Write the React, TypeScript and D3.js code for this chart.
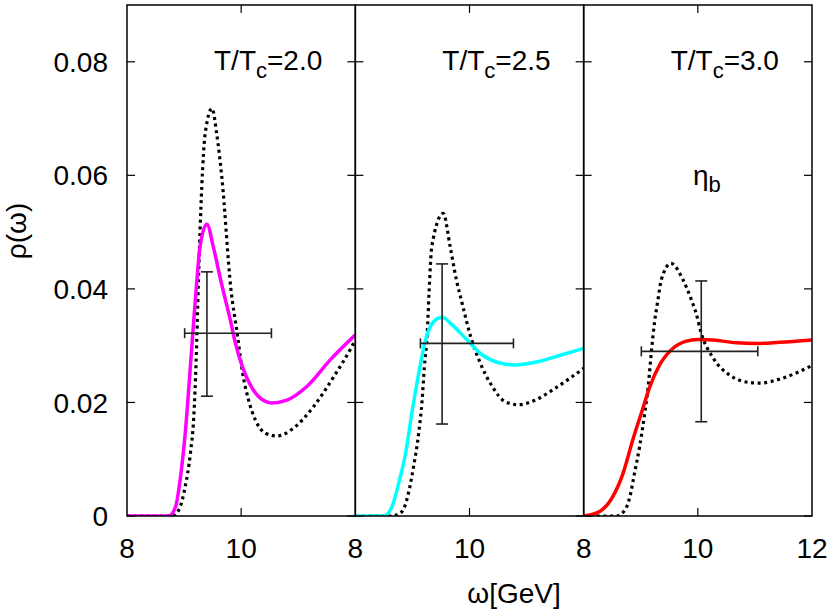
import React from "react";
import * as d3 from "d3";

// spectral functions rho(omega)
const panelTemps = ["2.0", "2.5", "3.0"];
const solidColors = ["#ff00ff", "#00ffff", "#ff0000"];

const solid20 = [[8,0],[8.6,0],[8.73,0],[8.85,0.0016],[8.93,0.0063],[9.02,0.0146],[9.11,0.0263],[9.17,0.0345],[9.22,0.041],[9.28,0.0475],[9.4,0.0514],[9.51,0.0475],[9.64,0.0416],[9.81,0.0345],[9.9,0.0304],[10.02,0.0263],[10.16,0.0231],[10.34,0.0207],[10.54,0.0199],[10.8,0.0204],[11.15,0.0228],[11.56,0.0275],[12,0.0319]];
const dotted20 = [[8,0],[8.8,0],[8.93,0.0016],[9.02,0.0052],[9.11,0.011],[9.17,0.0175],[9.21,0.027],[9.25,0.041],[9.31,0.058],[9.37,0.0674],[9.49,0.0718],[9.57,0.0674],[9.66,0.0598],[9.82,0.04],[9.93,0.0322],[10.02,0.0255],[10.13,0.0204],[10.25,0.0169],[10.42,0.0146],[10.63,0.0141],[10.92,0.0155],[11.27,0.0193],[11.62,0.0245],[11.91,0.0293],[12,0.031]];
const solid25 = [[8,0],[8.5,0],[8.64,0.0016],[8.76,0.0058],[8.88,0.011],[8.99,0.0181],[9.11,0.0251],[9.23,0.031],[9.37,0.0342],[9.52,0.035],[9.69,0.0337],[9.93,0.0313],[10.22,0.0284],[10.51,0.027],[10.8,0.0266],[11.21,0.0272],[11.62,0.0284],[12,0.0295]];
const dotted25 = [[8,0],[8.64,0],[8.82,0.0008],[8.93,0.004],[9.02,0.0087],[9.11,0.0146],[9.17,0.0204],[9.21,0.0263],[9.26,0.0322],[9.29,0.039],[9.34,0.0475],[9.54,0.0533],[9.66,0.0475],[9.77,0.0416],[9.87,0.0375],[10.02,0.0316],[10.19,0.0269],[10.4,0.0228],[10.63,0.0201],[10.86,0.0196],[11.15,0.0204],[11.5,0.0225],[12,0.026]];
const solid30 = [[8,0],[8.28,0.0008],[8.51,0.0034],[8.69,0.0075],[8.86,0.0134],[9.01,0.0181],[9.16,0.0228],[9.33,0.0266],[9.56,0.0295],[9.8,0.0308],[10,0.0311],[10.27,0.031],[10.68,0.0305],[11.03,0.0304],[11.43,0.0306],[12,0.031]];
const dotted30 = [[8,0],[8.57,0],[8.72,0.001],[8.81,0.0034],[8.89,0.0075],[8.98,0.0122],[9.07,0.0181],[9.13,0.0228],[9.19,0.0293],[9.24,0.034],[9.3,0.038],[9.36,0.0416],[9.53,0.0445],[9.74,0.0416],[9.89,0.038],[9.97,0.0357],[10.06,0.0322],[10.27,0.0278],[10.56,0.0248],[10.91,0.0235],[11.08,0.0234],[11.43,0.0241],[12,0.0265]];

const solidCurves = [solid20, solid25, solid30];
const dottedCurves = [dotted20, dotted25, dotted30];

// error bars (one per panel)
const errX = [9.4, 9.52, 10.06];
const errXLo = [9.01, 9.14, 9.01];
const errXHi = [10.53, 10.77, 11.05];
const errY = [0.0322, 0.0304, 0.029];
const errYLo = [0.0211, 0.0162, 0.0166];
const errYHi = [0.043, 0.0444, 0.0414];

const yTicks = [0, 0.02, 0.04, 0.06, 0.08];
const yTickLabels = ["0", "0.02", "0.04", "0.06", "0.08"];
const xTicksPerPanel = [[8, 10], [8, 10], [8, 10, 12]];

const W = 830, H = 612;
const left = 127, right = 812, top = 5, bottom = 516;
const panelW = (right - left) / 3;
const font = "'Liberation Sans', Arial, Helvetica, sans-serif";
const fs = 28;
const tickLen = 8;

const App = () => {
  const y = d3.scaleLinear().domain([0, 0.09]).range([bottom, top]);
  const xs = panelTemps.map((_, i) =>
    d3.scaleLinear().domain([8, 12]).range([left + i * panelW, left + (i + 1) * panelW])
  );

  return (
    <svg width={W} height={H} style={{ position: "absolute", left: 0, top: 0, background: "#fff" }} fontFamily={font}>
      <defs>
        {xs.map((x, i) => (
          <clipPath id={`clip${i}`} key={i}>
            <rect x={x(8)} y={top} width={panelW} height={bottom - top} />
          </clipPath>
        ))}
      </defs>
      {xs.map((x, i) => {
        const line = d3.line().x((d) => x(d[0])).y((d) => y(d[1])).curve(d3.curveMonotoneX);
        const x0 = x(8), x1 = x(12);
        return (
          <g key={i}>
            {/* ticks */}
            {yTicks.map((t, j) => (
              <g key={j} stroke="#000" strokeWidth={1.2}>
                <line x1={x0} x2={x0 + tickLen} y1={y(t)} y2={y(t)} />
                <line x1={x1} x2={x1 - tickLen} y1={y(t)} y2={y(t)} />
              </g>
            ))}
            <line x1={x(10)} x2={x(10)} y1={top} y2={top + tickLen} stroke="#000" strokeWidth={1.2} />
            <line x1={x(10)} x2={x(10)} y1={bottom} y2={bottom - tickLen} stroke="#000" strokeWidth={1.2} />

            <g clipPath={`url(#clip${i})`}>
              <path d={line(dottedCurves[i])} fill="none" stroke="#000" strokeWidth={3.2} strokeDasharray="3 3.6" />
              <path d={line(solidCurves[i])} fill="none" stroke={solidColors[i]} strokeWidth={3.5} />
            </g>

            {/* error bar */}
            <g stroke="#222" strokeWidth={1.6}>
              <line x1={x(errX[i])} x2={x(errX[i])} y1={y(errYLo[i])} y2={y(errYHi[i])} />
              <line x1={x(errX[i]) - 6} x2={x(errX[i]) + 6} y1={y(errYLo[i])} y2={y(errYLo[i])} />
              <line x1={x(errX[i]) - 6} x2={x(errX[i]) + 6} y1={y(errYHi[i])} y2={y(errYHi[i])} />
              <line x1={x(errXLo[i])} x2={x(errXHi[i])} y1={y(errY[i])} y2={y(errY[i])} />
              <line x1={x(errXLo[i])} x2={x(errXLo[i])} y1={y(errY[i]) - 5} y2={y(errY[i]) + 5} />
              <line x1={x(errXHi[i])} x2={x(errXHi[i])} y1={y(errY[i]) - 5} y2={y(errY[i]) + 5} />
            </g>

            {/* frame */}
            <rect x={x0} y={top} width={panelW} height={bottom - top} fill="none" stroke="#000" strokeWidth={1.5} />

            {/* x tick labels */}
            {xTicksPerPanel[i].map((t) => (
              <text key={t} x={x(t)} y={558} textAnchor="middle" fontSize={fs}>{t}</text>
            ))}

            {/* title */}
            <text x={x0 + 87} y={70} fontSize={fs}>
              T/T<tspan fontSize={22} dy={8}>c</tspan><tspan dy={-8}>={panelTemps[i]}</tspan>
            </text>
          </g>
        );
      })}

      {yTicks.map((t, j) => (
        <text key={j} x={108} y={y(t)} dy="0.36em" textAnchor="end" fontSize={fs}>{yTickLabels[j]}</text>
      ))}

      <text x={693} y={185} fontSize={fs}>
        η<tspan fontSize={22} dy={7}>b</tspan>
      </text>

      <text x={514} y={603} textAnchor="middle" fontSize={fs}>ω[GeV]</text>
      <text transform="translate(26,231) rotate(-90)" textAnchor="middle" fontSize={fs}>ρ(ω)</text>
    </svg>
  );
};

export default App;
